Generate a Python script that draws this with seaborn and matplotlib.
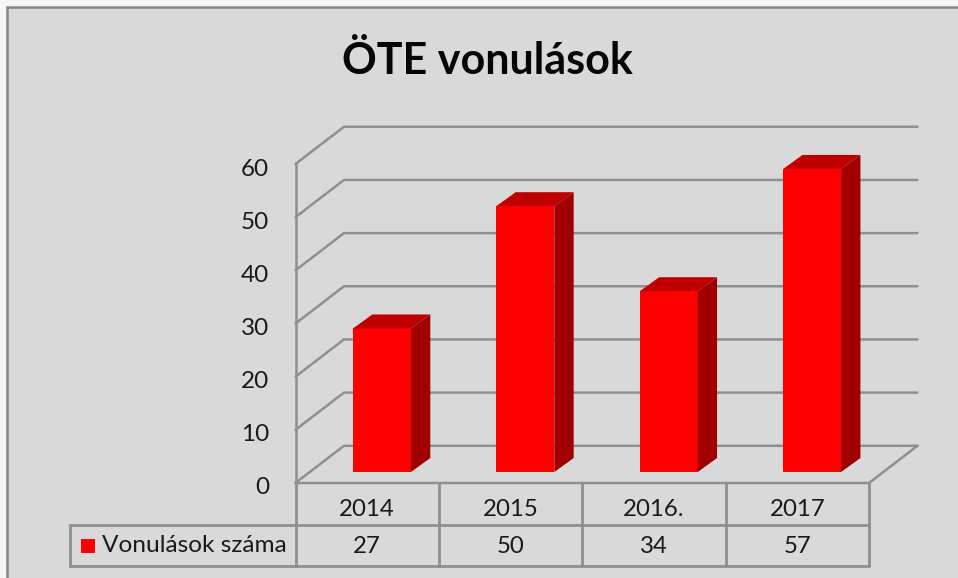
import matplotlib
matplotlib.use('Agg')
import matplotlib.pyplot as plt
from matplotlib.patches import Rectangle
from matplotlib.transforms import ScaledTranslation
import seaborn as sns

years = ['2014', '2015', '2016.', '2017']
counts = [27, 50, 34, 57]
y_ticks = [0, 10, 20, 30, 40, 50, 60]
series_name = 'Vonulások száma'
title = 'ÖTE vonulások'

sns.set_style('white')
plt.rcParams['font.family'] = ['Lato', 'DejaVu Sans']

W, H = 958, 578
BG = '#d9d9d9'
LINE = '#8f8f8f'
TEXT = '#1a1a1a'


# pixel box (top-left origin) to figure fractions
def box(left, top, right, bottom):
    return [left / W, 1 - bottom / H, (right - left) / W, (bottom - top) / H]


fig = plt.figure(figsize=(W / 100, H / 100), dpi=100, facecolor='#f6f6f6')
fig.patches.append(Rectangle((7 / W, -0.02), 1.02, 1 - 7 / H + 0.02, transform=fig.transFigure,
                             facecolor=BG, edgecolor='#858585', linewidth=1.8, figure=fig, zorder=-1))
fig.text(487 / W, 1 - 61 / H, title, ha='center', va='center', fontsize=31, fontweight='bold', color='#050505')

# front plane of the 3d box, carries the y axis, gridlines and data table
wall = fig.add_axes(box(295.5, 164, 869, 483))
wall.patch.set_alpha(0)
wall.set_xlim(-0.5, 3.5)
wall.set_ylim(0, 60)
for side in ['top', 'right', 'bottom']:
    wall.spines[side].set_visible(False)
wall.spines['left'].set_color(LINE)
wall.spines['left'].set_linewidth(1.8)
wall.set_yticks(y_ticks)
wall.set_yticklabels([str(t) for t in y_ticks], fontsize=17.5, color=TEXT)
wall.tick_params(axis='y', length=0, pad=19)
wall.set_xticks([])
# labels sit a few pixels under their gridline in the original
for lab in wall.get_yticklabels():
    lab.set_transform(lab.get_transform() + ScaledTranslation(0, -3 / 100, fig.dpi_scale_trans))

back_x, back_y = 0.338, 7.0
for t in y_ticks:
    wall.plot([-0.5, -0.5 + back_x, 3.5 + back_x], [t, t + back_y, t + back_y],
              color=LINE, lw=1.8, clip_on=False, solid_capstyle='round')
wall.plot([-0.5, 3.5, 3.5 + back_x], [0, 0, back_y], color=LINE, lw=1.8, clip_on=False)

# data table under the plot
row1, row2 = -7.9, -15.6
legend_left = -2.07
for i in range(5):
    wall.plot([i - 0.5, i - 0.5], [0, row2], color=LINE, lw=2, clip_on=False)
wall.plot([legend_left, 3.5], [row1, row1], color=LINE, lw=2, clip_on=False)
wall.plot([legend_left, 3.5], [row2, row2], color=LINE, lw=2, clip_on=False)
wall.plot([legend_left, legend_left], [row1, row2], color=LINE, lw=2, clip_on=False)
for i, (yr, c) in enumerate(zip(years, counts)):
    wall.text(i, row1 / 2 - 1.1, yr, ha='center', va='center', fontsize=17.3, color=TEXT, clip_on=False)
    wall.text(i, (row1 + row2) / 2 - 0.2, str(c), ha='center', va='center', fontsize=17.3, color=TEXT, clip_on=False)
wall.scatter([legend_left + 0.125], [(row1 + row2) / 2 - 0.1], marker='s', s=98, color='#ff0000',
             linewidths=0, clip_on=False)
wall.text(legend_left + 0.22, (row1 + row2) / 2 - 0.05, series_name, ha='left', va='center',
          fontsize=17.6, color=TEXT, clip_on=False)

# bars sit a little behind the front plane
ax = fig.add_axes(box(310.3, 153, 883.8, 472))
ax.patch.set_alpha(0)
sns.barplot(x=years, y=counts, color='#ff0000', saturation=1, width=0.404, linewidth=0, ax=ax)
ax.set_xlim(-0.5, 3.5)
ax.set_ylim(0, 60)
ax.axis('off')

depth_x, depth_y = 0.135, 2.63
for bar in list(ax.patches):
    x0 = bar.get_x()
    x1 = x0 + bar.get_width()
    top = bar.get_height()
    # right side
    ax.fill([x1, x1 + depth_x, x1 + depth_x, x1], [0, depth_y, top + depth_y, top],
            color='#a00000', lw=0, clip_on=False)
    # top
    ax.fill([x0, x0 + depth_x, x1 + depth_x, x1], [top, top + depth_y, top + depth_y, top],
            color='#c00000', lw=0, clip_on=False)

fig.savefig('out.png', dpi=100, facecolor=fig.get_facecolor())
